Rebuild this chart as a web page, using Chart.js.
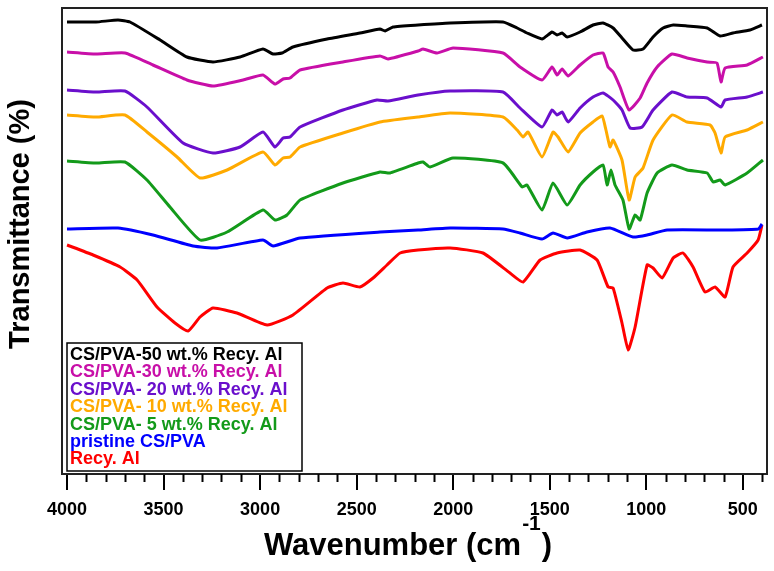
<!DOCTYPE html>
<html>
<head>
<meta charset="utf-8">
<script src="https://cdn.jsdelivr.net/npm/chart.js@4.4.1/dist/chart.umd.min.js"></script>
<style>
  html, body { margin: 0; padding: 0; background: #fff; }
  #wrap { width: 774px; height: 571px; }
</style>
</head>
<body>
<div id="wrap"><canvas id="ftir"></canvas></div>
<script>
// x ticks (cm-1)
const majorTicks = [4000, 3500, 3000, 2500, 2000, 1500, 1000, 500];

// CS/PVA-50 wt.% Recy. Al
const wn50 = [4000, 3850, 3736, 3674, 3518, 3379, 3244, 3104, 2985, 2933, 2887, 2830, 2653, 2483, 2379, 2353, 2312, 2182, 2016, 1742, 1669, 1618, 1540, 1488, 1462, 1436, 1410, 1343, 1276, 1224, 1172, 1126, 1069, 1017, 965, 913, 861, 789, 685, 618, 551, 463, 401];
const t50 = [452, 452, 454, 452, 434, 417, 412, 417, 425, 420, 421, 427, 435, 441, 445, 443, 447, 449, 451, 452, 446, 441, 435, 442, 439, 441, 437, 442, 449, 451, 446, 436, 424, 425, 437, 446, 449, 448, 446, 438, 441, 444, 449];

// CS/PVA-30 wt.% Recy. Al
const wn30 = [4000, 3850, 3700, 3555, 3379, 3244, 3088, 2985, 2923, 2881, 2845, 2793, 2571, 2379, 2338, 2182, 2156, 2084, 2001, 1742, 1654, 1540, 1488, 1462, 1436, 1405, 1343, 1276, 1224, 1198, 1172, 1136, 1089, 1032, 996, 944, 867, 789, 685, 634, 613, 592, 478, 396];
const t30 = [422, 420, 421, 409, 394, 388, 394, 399, 390, 395, 396, 404, 412, 418, 415, 423, 425, 421, 426, 421, 407, 394, 407, 399, 405, 398, 409, 419, 421, 407, 402, 387, 364, 376, 391, 407, 420, 416, 412, 411, 392, 406, 409, 417];

// CS/PVA- 20 wt.% Recy. Al
const wn20 = [4000, 3850, 3700, 3586, 3399, 3244, 3104, 2985, 2923, 2881, 2845, 2793, 2571, 2395, 2338, 2182, 2016, 1742, 1654, 1540, 1488, 1462, 1436, 1405, 1343, 1276, 1224, 1172, 1126, 1084, 1022, 965, 867, 789, 685, 613, 592, 478, 396];
const t20 = [384, 382, 383, 367, 331, 321, 327, 342, 327, 336, 337, 347, 364, 374, 373, 379, 383, 382, 366, 347, 364, 359, 362, 352, 366, 377, 381, 374, 364, 346, 347, 364, 382, 377, 376, 367, 374, 377, 382];

// CS/PVA- 10 wt.% Recy. Al
const wn10 = [4000, 3850, 3700, 3586, 3430, 3311, 3171, 2985, 2923, 2881, 2845, 2793, 2571, 2379, 2182, 2016, 1742, 1669, 1638, 1612, 1540, 1483, 1457, 1405, 1343, 1276, 1229, 1209, 1188, 1172, 1126, 1089, 1058, 1017, 965, 867, 789, 670, 644, 613, 592, 478, 396];
const t10 = [359, 357, 359, 342, 317, 296, 304, 322, 309, 316, 317, 327, 341, 352, 357, 361, 357, 344, 337, 342, 317, 342, 337, 322, 341, 352, 358, 344, 327, 334, 314, 274, 297, 306, 334, 359, 352, 349, 341, 321, 337, 344, 352];

// CS/PVA- 5 wt.% Recy. Al
const wn5 = [4000, 3850, 3700, 3586, 3467, 3311, 3171, 2985, 2923, 2861, 2793, 2571, 2379, 2327, 2182, 2156, 2120, 2001, 1742, 1643, 1618, 1540, 1483, 1410, 1343, 1276, 1224, 1203, 1183, 1162, 1121, 1089, 1058, 1032, 996, 944, 867, 789, 685, 654, 618, 592, 478, 396];
const t5 = [313, 311, 312, 294, 267, 234, 242, 264, 254, 259, 274, 291, 302, 301, 311, 312, 307, 316, 311, 287, 289, 264, 291, 269, 289, 302, 309, 289, 304, 289, 274, 245, 259, 254, 281, 301, 309, 304, 301, 292, 294, 289, 301, 314];

// pristine CS/PVA
const wnPristine = [4000, 3736, 3555, 3347, 3223, 2985, 2933, 2793, 2379, 2182, 2016, 1742, 1654, 1540, 1483, 1410, 1307, 1188, 1069, 996, 892, 600, 420, 401];
const tPristine = [245, 246, 239, 228, 226, 234, 228, 236, 242, 244, 246, 245, 241, 235, 241, 236, 242, 246, 237, 239, 244, 244, 245, 250];

// Recy. Al
const wnAl = [4000, 3865, 3725, 3637, 3534, 3441, 3373, 3311, 3244, 3120, 2964, 2830, 2653, 2571, 2483, 2415, 2343, 2275, 2182, 2016, 1846, 1706, 1638, 1550, 1462, 1343, 1255, 1198, 1172, 1126, 1094, 1058, 996, 965, 918, 861, 810, 758, 696, 644, 592, 551, 478, 421, 401];
const tAl = [229, 219, 207, 194, 167, 151, 143, 157, 166, 161, 149, 159, 186, 191, 187, 196, 209, 221, 224, 226, 221, 201, 192, 214, 221, 224, 214, 187, 186, 151, 124, 147, 209, 206, 196, 216, 221, 207, 182, 187, 177, 207, 221, 234, 249];

const seriesNames = ['CS/PVA-50 wt.% Recy. Al', 'CS/PVA-30 wt.% Recy. Al', 'CS/PVA- 20 wt.% Recy. Al',
  'CS/PVA- 10 wt.% Recy. Al', 'CS/PVA- 5 wt.% Recy. Al', 'pristine CS/PVA', 'Recy. Al'];
const seriesColors = ['#000000', '#c80fa8', '#6a0fcc', '#ffaa00', '#139a1a', '#0000ff', '#ff0000'];
const seriesWn = [wn50, wn30, wn20, wn10, wn5, wnPristine, wnAl];
const seriesT = [t50, t30, t20, t10, t5, tPristine, tAl];

const toPoints = (xs, ys) => xs.map((x, i) => ({ x: x, y: ys[i] }));

const datasets = seriesNames.map((name, i) => ({
  label: name,
  data: toPoints(seriesWn[i], seriesT[i]),
  borderColor: seriesColors[i],
  backgroundColor: seriesColors[i],
  borderWidth: 3,
  pointRadius: 0,
  tension: 0.15,
  fill: false
}));

// frame, minor ticks, legend box and axis titles
const decorations = {
  id: 'decorations',
  afterDraw(chart) {
    const ctx = chart.ctx;
    const a = chart.chartArea;
    const x = chart.scales.x;
    ctx.save();

    ctx.strokeStyle = '#222';
    ctx.lineWidth = 2;
    ctx.strokeRect(a.left, a.top, a.right - a.left, a.bottom - a.top);

    ctx.strokeStyle = '#000';
    ctx.lineWidth = 2;
    for (let v = 400; v <= 4000; v += 100) {
      if (v % 500 === 0) continue;
      const px = Math.round(x.getPixelForValue(v)) + 0.5;
      ctx.beginPath();
      ctx.moveTo(px, a.bottom);
      ctx.lineTo(px, a.bottom + 8);
      ctx.stroke();
    }

    // legend
    const lx = a.left + 5, ly = a.bottom - 131, lw = 235, lh = 128;
    ctx.fillStyle = '#fff';
    ctx.fillRect(lx, ly, lw, lh);
    ctx.lineWidth = 1.5;
    ctx.strokeStyle = '#000';
    ctx.strokeRect(lx, ly, lw, lh);
    ctx.font = 'bold 18px "Liberation Sans", Arial, sans-serif';
    ctx.textBaseline = 'middle';
    ctx.textAlign = 'left';
    seriesNames.forEach((name, i) => {
      ctx.fillStyle = seriesColors[i];
      ctx.fillText(name, lx + 3, ly + 12 + i * 17.4);
    });

    // x title with superscript
    ctx.fillStyle = '#000';
    const main = 'Wavenumber (cm';
    const bigFont = 'bold 31px "Liberation Sans", Arial, sans-serif';
    const supFont = 'bold 21px "Liberation Sans", Arial, sans-serif';
    ctx.font = bigFont;
    const w1 = ctx.measureText(main).width;
    const w3 = ctx.measureText(')').width;
    ctx.font = supFont;
    const w2 = ctx.measureText('-1').width;
    const total = w1 + w2 + 2 + w3;
    let tx = 408 - total / 2;
    const base = 555;
    ctx.textBaseline = 'alphabetic';
    ctx.font = bigFont;
    ctx.fillText(main, tx, base);
    tx += w1 + 1;
    ctx.font = supFont;
    ctx.fillText('-1', tx, base - 25);
    tx += w2 + 1;
    ctx.font = bigFont;
    ctx.fillText(')', tx, base);

    // y title
    ctx.translate(21, 224);
    ctx.rotate(-Math.PI / 2);
    ctx.font = 'bold 29px "Liberation Sans", Arial, sans-serif';
    ctx.textAlign = 'center';
    ctx.textBaseline = 'middle';
    ctx.fillText('Transmittance (%)', 0, 0);
    ctx.restore();
  }
};

new Chart(document.getElementById('ftir'), {
  type: 'line',
  data: { datasets: datasets },
  options: {
    responsive: true,
    maintainAspectRatio: false,
    animation: false,
    layout: { padding: { left: 62, right: 7, top: 8, bottom: 0 } },
    plugins: { legend: { display: false }, tooltip: { enabled: false } },
    scales: {
      x: {
        type: 'linear',
        reverse: true,
        min: 375,
        max: 4026,
        afterBuildTicks: (scale) => { scale.ticks = majorTicks.map(v => ({ value: v })); },
        afterFit: (scale) => { scale.height = 97; },
        border: { display: false },
        grid: { drawOnChartArea: false, drawTicks: true, tickLength: 16, color: '#000', lineWidth: 2 },
        ticks: {
          color: '#000',
          padding: 9,
          maxRotation: 0,
          autoSkip: false,
          callback: (v) => String(v),
          font: { family: '"Liberation Sans", Arial, sans-serif', size: 18, weight: 'bold' }
        }
      },
      y: {
        display: false,
        min: 0,
        max: 466
      }
    }
  },
  plugins: [decorations]
});
</script>
</body>
</html>
